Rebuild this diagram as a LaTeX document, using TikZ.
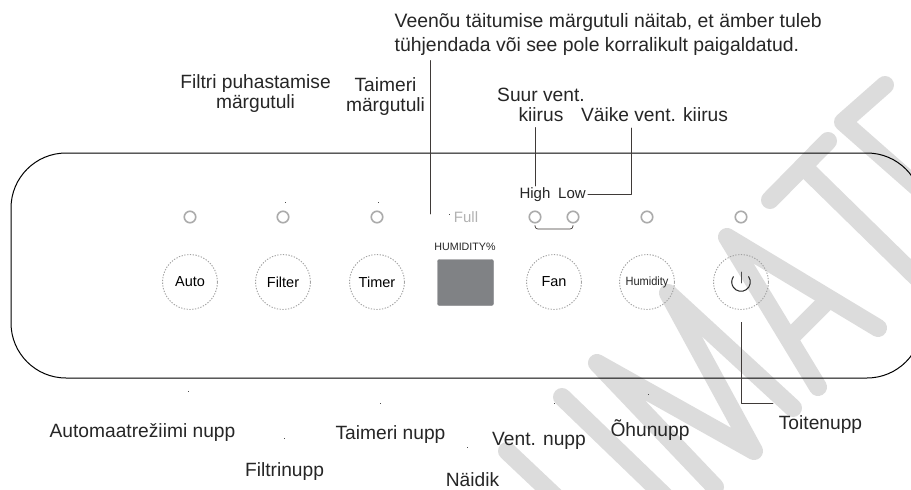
\documentclass[tikz,border=0pt]{standalone}
\usepackage{fontspec}
\setmainfont{Liberation Sans}
\definecolor{markgray}{HTML}{DCDCDC}
\definecolor{ledgray}{HTML}{ABABAB}
\definecolor{knobgray}{HTML}{A0A0A0}
\definecolor{screengray}{HTML}{808285}
\definecolor{leadgray}{HTML}{3F3A38}
\tikzset{
  stamp/.style={draw=markgray, line width=18pt, line cap=round, line join=round},
  panel/.style={draw=black, line width=1pt},
  led/.style={circle, draw=ledgray, line width=1.6pt, minimum size=11.5pt, inner sep=0pt},
  knob/.style={circle, draw=knobgray, line width=.9pt, line cap=butt, dash pattern=on 1.3pt off 1.5pt, minimum size=55pt, inner sep=0pt, font=\fontsize{14.5}{15}\selectfont},
  lab/.style={inner sep=2pt, font=\fontsize{19.2}{20}\selectfont, text=black!85},
  small lab/.style={inner sep=2pt, font=\fontsize{15}{15}\selectfont, text=black!85},
  leader/.style={draw=leadgray, line width=.9pt},
  speck/.style={fill=black!70, minimum size=1pt, inner sep=0pt}
}
\begin{document}
\begin{tikzpicture}[x=1pt,y=-1pt,line cap=round, line join=round]
  \clip (0,0) rectangle (911,490);
  \path [fill=white] (0,0) rectangle (911,490);
  \path [stamp] (885,85) -- (843,122) -- (960,225);
  \path [stamp] (828,141) -- (770,200);
  \path [stamp] (807,170) -- (950,310);
  \path [stamp] (878,328) -- (727,237) -- (818,387);
  \path [stamp] (825,303) -- (793,335);
  \path [stamp] (793,408) -- (668,293) -- (754,451) -- (597,363) -- (715,487);
  \path [stamp] (562,397) -- (700,530);
  \path [stamp] (507,451) -- (580,520);
  \path [panel] (11,153) [rounded corners=55pt] rectangle (922,378);

  \foreach \n/\x in {ledauto/190, ledfilter/283, ledtimer/377, ledhigh/535, ledlow/573, ledhum/647, ledpower/741}
    \node [led] (\n) at (\x,217) {};
  \foreach \n/\x/\t in {auto/190/Auto, filter/283/Filter, timer/377/Timer, fan/554/Fan}
    \node [knob] (\n) at (\x,282) {\t};
  \node [knob] (hum) at (647,282) {};
  \node [small lab, inner sep=0pt, scale=.8, xscale=.92] (humtext) at (647,282) {Humidity};
  \node [knob] (power) at (741,282) {};
  \draw [line width=1pt, draw=black!85] ([shift={(35:9.3pt)}]power.center) arc [start angle=35, end angle=-215, radius=9.3pt];
  \draw [line width=.9pt, draw=black!70] ([yshift=-1pt]power.center) -- ([yshift=10pt]power.center);

  \node [draw=screengray, fill=screengray, rounded corners=2pt, minimum width=56pt, minimum height=46pt, inner sep=0pt] (screen) at (465.5,282.5) {};
  \node [inner sep=0pt, font=\fontsize{10.7}{11}\selectfont, text=black!85] (humpct) at (465,247) {HUMIDITY\%};
  \node [small lab, text=black!30] (full) at (466,217) {Full};
  \node [small lab, anchor=base] (high) at (535,198) {High};
  \node [small lab, anchor=base] (low) at (572,198) {Low};

  \node [lab, anchor=north west, inner sep=0pt, align=left, font=\fontsize{19.4}{24}\selectfont] (veenou) at (394.5,13)
    {Veenõu täitumise märgutuli näitab, et ämber tuleb\\tühjendada või see pole korralikult paigaldatud.};
  \node [lab, align=center] (filtrimark) at (255.5,94) {Filtri puhastamise\\märgutuli};
  \node [lab, align=center] (taimermark) at (385.5,96.5) {Taimeri\\märgutuli};
  \node [lab, align=center] (suur) at (541,104.5) {Suur vent.\\kiirus};
  \node [lab] (vaike) at (654.5,115) {Väike vent. kiirus};
  \node [lab] (autonupp) at (142.5,432) {Automaatrežiimi nupp};
  \node [lab] (filtrinupp) at (284.5,472) {Filtrinupp};
  \node [lab] (taimernupp) at (390.5,435) {Taimeri nupp};
  \node [lab] (ventnupp) at (539,441) {Vent. nupp};
  \node [lab, inner sep=0pt] (naidik) at (472.5,479.5) {Näidik};
  \node [lab] (ohunupp) at (650,430) {Õhunupp};
  \node [lab] (toitenupp) at (820.5,425) {Toitenupp};

  \coordinate (fullfoot) at (430,214);
  \coordinate (lowtop) at (631,128);
  \coordinate (toitefoot) at (773,403);
  \draw [leader, shorten >=5pt] (fullfoot) -- (fullfoot |- veenou.south);
  \draw [leader, shorten <=-1pt, shorten >=4pt] (high.north) -- (high.north |- suur.south);
  \draw [leader] ([yshift=-2pt]low.east) -| (lowtop);
  \draw [leader, shorten <=12.5pt] (power.south) |- (toitefoot);
  \draw [leader, line width=.7pt, rounded corners=3pt] ([yshift=-2pt]ledhigh.south) |- ([yshift=-5.5pt]ledlow.south) -- ([yshift=-2pt]ledlow.south);

  \foreach \x/\y [count=\z] in {285/202, 378/202, 449/214, 188/391, 380/403, 284/438, 467/447, 554/403, 648/394}
    \node [speck] (speck\z) at (\x,\y) {};
\end{tikzpicture}
\end{document}
